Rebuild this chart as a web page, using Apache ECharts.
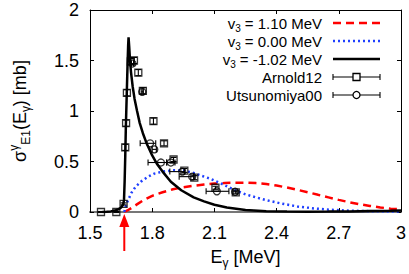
<!DOCTYPE html>
<html><head><meta charset="utf-8">
<script src="https://cdn.jsdelivr.net/npm/echarts@6/dist/echarts.min.js"></script>
<style>html,body{margin:0;padding:0;background:#fff}#c{width:409px;height:274px}</style>
</head><body><div id="c"></div>
<script>
// ---- tick labels ----
const xTickLabels = ['1.5', '1.8', '2.1', '2.4', '2.7', '3'];
const yTickLabels = ['0', '0.5', '1', '1.5', '2'];
const seriesNames = ['v3 = 1.10 MeV', 'v3 = 0.00 MeV', 'v3 = -1.02 MeV', 'Arnold12', 'Utsunomiya00'];
const threshold = 1.6654; // MeV, red arrow

// ---- theory curves ----
const eRed = [1.6654,1.68,1.70,1.73,1.76,1.80,1.85,1.90,1.95,2.0,2.05,2.1,2.15,2.2,2.25,2.3,2.35,2.4,2.45,2.5,2.55,2.6,2.65,2.7,2.75,2.8,2.85,2.9,2.95,3.0];
const yRed = [0,0.015,0.04,0.08,0.12,0.16,0.195,0.225,0.245,0.26,0.272,0.281,0.287,0.29,0.29,0.286,0.277,0.262,0.242,0.22,0.196,0.17,0.145,0.12,0.097,0.077,0.06,0.045,0.033,0.027];

const eBlue = [1.6654,1.67,1.68,1.70,1.72,1.745,1.78,1.81,1.85,1.90,1.95,2.0,2.04,2.08,2.15,2.2,2.25,2.3,2.35,2.42,2.5,2.58,2.66,2.75,2.85,2.95,3.0];
const yBlue = [0,0.04,0.1,0.19,0.25,0.30,0.35,0.38,0.40,0.413,0.41,0.387,0.357,0.33,0.265,0.215,0.175,0.145,0.118,0.085,0.055,0.035,0.022,0.013,0.008,0.005,0.004];

const eBlack = [1.56,1.58,1.60,1.62,1.64,1.65,1.66,1.664,1.667,1.670,1.673,1.677,1.681,1.684,1.686,1.689,1.693,1.698,1.706,1.715,1.727,1.74,1.755,1.775,1.80,1.825,1.85,1.89,1.94,2.0,2.05,2.1,2.16,2.25,2.35,2.45,2.55,2.65,2.75,2.85,2.95,3.0];
const yBlack = [0,0.002,0.006,0.014,0.03,0.045,0.075,0.12,0.3,0.55,0.85,1.15,1.45,1.65,1.73,1.64,1.50,1.38,1.24,1.12,1.0,0.88,0.78,0.67,0.56,0.47,0.40,0.30,0.215,0.145,0.105,0.072,0.045,0.02,0.008,0.004,0.003,0.004,0.006,0.009,0.012,0.014];

// ---- data: Arnold12 (squares) ----
const arnoldE = [1.553,1.627,1.662,1.670,1.674,1.678,1.697,1.712,1.733,1.755,1.806,1.857,1.903,1.955,2.003,2.105,2.203];
const arnoldY = [0,0,0.08,0.64,0.88,1.18,1.49,1.50,1.38,1.20,0.90,0.68,0.52,0.41,0.34,0.24,0.195];
const arnoldErr = [0.005,0.005,0.01,0.03,0.03,0.03,0.03,0.03,0.03,0.03,0.03,0.025,0.02,0.02,0.02,0.015,0.015];

// ---- data: Utsunomiya00 (circles, horizontal error bars) ----
const utsuE  = [1.705,1.752,1.790,1.810,1.842,1.890,1.945,1.993,2.112,2.200];
const utsuY  = [1.47,1.19,0.68,0.62,0.49,0.49,0.40,0.35,0.205,0.20];
const utsuLo = [1.700,1.747,1.742,1.800,1.780,1.870,1.885,1.930,2.060,2.190];
const utsuHi = [1.710,1.757,1.817,1.820,1.870,1.910,1.955,2.000,2.170,2.210];

const FONT = 'Liberation Sans, Arial, Helvetica, sans-serif';
const zip = (a, b) => a.map((v, i) => [v, b[i]]);

const chart = echarts.init(document.getElementById('c'), null, {renderer: 'svg'});

function errH(params, api) {
  const y = api.value(1), lo = api.value(2), hi = api.value(3);
  const p1 = api.coord([lo, y]), p2 = api.coord([hi, y]);
  const c = 3, st = {stroke: '#000', lineWidth: 1.1};
  return {type: 'group', children: [
    {type: 'line', shape: {x1: p1[0], y1: p1[1], x2: p2[0], y2: p2[1]}, style: st},
    {type: 'line', shape: {x1: p1[0], y1: p1[1] - c, x2: p1[0], y2: p1[1] + c}, style: st},
    {type: 'line', shape: {x1: p2[0], y1: p2[1] - c, x2: p2[0], y2: p2[1] + c}, style: st}
  ]};
}
function errV(params, api) {
  const x = api.value(0), lo = api.value(2), hi = api.value(3);
  const p1 = api.coord([x, lo]), p2 = api.coord([x, hi]);
  const c = 3, st = {stroke: '#000', lineWidth: 1.1};
  return {type: 'group', children: [
    {type: 'line', shape: {x1: p1[0], y1: p1[1], x2: p2[0], y2: p2[1]}, style: st},
    {type: 'line', shape: {x1: p1[0] - c, y1: p1[1], x2: p1[0] + c, y2: p1[1]}, style: st},
    {type: 'line', shape: {x1: p2[0] - c, y1: p2[1], x2: p2[0] + c, y2: p2[1]}, style: st}
  ]};
}

const axisCommonTick = {show: true, inside: true, length: 4, lineStyle: {color: '#000', width: 1}};
const subRich = {
  a: {fontSize: 18, fontFamily: FONT, color: '#000', lineHeight: 24},
  s: {fontSize: 12, fontFamily: FONT, color: '#000', lineHeight: 12, verticalAlign: 'bottom'},
  p: {fontSize: 12, fontFamily: FONT, color: '#000', lineHeight: 12, verticalAlign: 'top'}
};

const option = {
  animation: false,
  backgroundColor: '#fff',
  grid: {left: 89, right: 8, top: 10, bottom: 61, containLabel: false},
  xAxis: [{
    type: 'value', min: 1.5, max: 3, interval: 0.3, position: 'bottom',
    axisLine: {show: true, onZero: false, lineStyle: {color: '#777', width: 2}},
    axisTick: axisCommonTick,
    splitLine: {show: false},
    axisLabel: {fontSize: 18, fontFamily: FONT, color: '#000', margin: 12,
      formatter: v => xTickLabels[Math.round((v - 1.5) / 0.3)]},
    name: '{a|E}{s|γ}{a| [MeV]}', nameLocation: 'middle', nameGap: 33,
    nameTextStyle: {rich: subRich}
  }, {
    type: 'value', min: 1.5, max: 3, interval: 0.3, position: 'top',
    axisLine: {show: true, onZero: false, lineStyle: {color: '#000', width: 1}},
    axisTick: axisCommonTick, axisLabel: {show: false}, splitLine: {show: false}
  }],
  yAxis: [{
    type: 'value', min: 0, max: 2, interval: 0.5, position: 'left',
    axisLine: {show: true, onZero: false, lineStyle: {color: '#000', width: 1}},
    axisTick: axisCommonTick, splitLine: {show: false},
    axisLabel: {fontSize: 18, fontFamily: FONT, color: '#000', margin: 11,
      formatter: v => yTickLabels[Math.round(v / 0.5)]},
    name: '{a|σ}{p|γ}{s|E1}{a|(E}{s|γ}{a|) [mb]}', nameLocation: 'middle', nameGap: 58, nameRotate: 90,
    nameTextStyle: {rich: subRich}
  }, {
    type: 'value', min: 0, max: 2, interval: 0.5, position: 'right',
    axisLine: {show: true, onZero: false, lineStyle: {color: '#000', width: 1}},
    axisTick: axisCommonTick, axisLabel: {show: false}, splitLine: {show: false}
  }],
  series: [
    {name: seriesNames[0], type: 'line', data: zip(eRed, yRed), showSymbol: false, smooth: false,
      lineStyle: {color: '#ff0000', width: 2.5, type: [8, 5]}, z: 2},
    {name: seriesNames[1], type: 'line', data: zip(eBlue, yBlue), showSymbol: false, smooth: false,
      lineStyle: {color: '#2040ff', width: 2.5, type: [2, 3]}, z: 2},
    {name: seriesNames[2], type: 'line', data: zip(eBlack, yBlack), showSymbol: false, smooth: false,
      lineStyle: {color: '#000', width: 2.5}, z: 3},
    {name: seriesNames[3] + ' err', type: 'custom', renderItem: errV,
      data: arnoldE.map((e, i) => [e, arnoldY[i], arnoldY[i] - arnoldErr[i], arnoldY[i] + arnoldErr[i]]),
      encode: {x: 0, y: [1, 2, 3]}, z: 4, silent: true},
    {name: seriesNames[3], type: 'scatter', data: zip(arnoldE, arnoldY), symbol: 'rect', symbolSize: 7,
      itemStyle: {color: 'rgba(255,255,255,0)', borderColor: '#000', borderWidth: 1.3}, z: 5},
    {name: seriesNames[4] + ' err', type: 'custom', renderItem: errH,
      data: utsuE.map((e, i) => [e, utsuY[i], utsuLo[i], utsuHi[i]]),
      encode: {x: [0, 2, 3], y: 1}, z: 4, silent: true},
    {name: seriesNames[4], type: 'scatter', data: zip(utsuE, utsuY), symbol: 'circle', symbolSize: 7,
      itemStyle: {color: 'rgba(255,255,255,0)', borderColor: '#000', borderWidth: 1.3}, z: 5}
  ]
};
chart.setOption(option);

// ---- legend (drawn) + threshold arrow ----
const legRows = [23, 41, 59, 77, 95];
const txtX = 322, l1 = 333, l2 = 380;
const legRich = {
  a: {fontSize: 15, fontFamily: FONT, fill: '#000', lineHeight: 20},
  s: {fontSize: 10, fontFamily: FONT, fill: '#000', lineHeight: 10, verticalAlign: 'bottom'}
};
const legTexts = [
  '{a|v}{s|3}{a| = 1.10 MeV}', '{a|v}{s|3}{a| = 0.00 MeV}', '{a|v}{s|3}{a| = -1.02 MeV}',
  '{a|Arnold12}', '{a|Utsunomiya00}'
];
const g = [];
legTexts.forEach((t, i) => {
  g.push({type: 'text', x: txtX, y: legRows[i], style: {text: t, rich: legRich, align: 'right', verticalAlign: 'middle', fill: '#000'}});
});
g.push({type: 'line', shape: {x1: l1, y1: legRows[0], x2: l2, y2: legRows[0]}, style: {stroke: '#ff0000', lineWidth: 2.5, lineDash: [8, 5]}});
g.push({type: 'line', shape: {x1: l1, y1: legRows[1], x2: l2, y2: legRows[1]}, style: {stroke: '#2040ff', lineWidth: 2.5, lineDash: [2, 3]}});
g.push({type: 'line', shape: {x1: l1, y1: legRows[2], x2: l2, y2: legRows[2]}, style: {stroke: '#000', lineWidth: 2.5}});
[3, 4].forEach(i => {
  const y = legRows[i], st = {stroke: '#000', lineWidth: 1.1};
  g.push({type: 'line', shape: {x1: l1, y1: y, x2: l2, y2: y}, style: st});
  g.push({type: 'line', shape: {x1: l1, y1: y - 3, x2: l1, y2: y + 3}, style: st});
  g.push({type: 'line', shape: {x1: l2, y1: y - 3, x2: l2, y2: y + 3}, style: st});
  const cx = (l1 + l2) / 2;
  if (i === 3) g.push({type: 'rect', shape: {x: cx - 3.5, y: y - 3.5, width: 7, height: 7}, style: {fill: '#fff', stroke: '#000', lineWidth: 1.3}});
  else g.push({type: 'circle', shape: {cx: cx, cy: y, r: 3.5}, style: {fill: '#fff', stroke: '#000', lineWidth: 1.3}});
});
const ax = chart.convertToPixel({xAxisIndex: 0}, threshold);
const ay = chart.convertToPixel({yAxisIndex: 0}, 0);
g.push({type: 'line', shape: {x1: ax, y1: ay + 39, x2: ax, y2: ay + 12}, style: {stroke: '#ff0000', lineWidth: 2}});
g.push({type: 'polygon', shape: {points: [[ax - 5, ay + 15], [ax + 5, ay + 15], [ax, ay + 2]]}, style: {fill: '#ff0000'}});
chart.setOption({graphic: g});
</script></body></html>
